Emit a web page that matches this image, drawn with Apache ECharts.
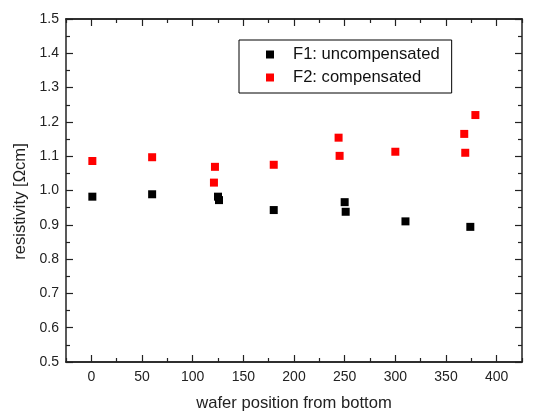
<!DOCTYPE html>
<html>
<head>
<meta charset="utf-8">
<script src="https://cdn.jsdelivr.net/npm/echarts@6/dist/echarts.min.js"></script>
<style>html,body{margin:0;padding:0;background:#fff}#c{width:534px;height:412px}</style>
</head>
<body>
<div id="c"></div>
<script>
// Data
const f1X = [1, 60, 125, 126, 180, 250, 251, 310, 374];
const f1Y = [0.982, 0.989, 0.982, 0.972, 0.943, 0.966, 0.938, 0.910, 0.894];
const f2X = [1, 60, 122, 121, 180, 244, 245, 300, 368, 369, 379];
const f2Y = [1.086, 1.097, 1.069, 1.023, 1.075, 1.154, 1.101, 1.113, 1.165, 1.110, 1.220];
const xMajorTicks = [0, 50, 100, 150, 200, 250, 300, 350, 400];
const xMinorTicks = [-25, 25, 75, 125, 175, 225, 275, 325, 375, 425];
const seriesNames = ['F1: uncompensated', 'F2: compensated'];

const font = 'Liberation Sans, Arial, sans-serif';
const axisCol = '#222';
function xAx(pos, ticks, len, labels) {
  return {
    type: 'value', position: pos, min: -25, max: 425,
    axisLine: { show: true, onZero: false, lineStyle: { color: axisCol, width: 1.5 } },
    axisTick: { show: true, inside: true, length: len, customValues: ticks, lineStyle: { color: axisCol, width: 1.2 } },
    axisLabel: labels ? { show: true, customValues: xMajorTicks, margin: 8, color: '#222', fontSize: 14, fontFamily: font } : { show: false },
    splitLine: { show: false }
  };
}
function yAx(pos, labels) {
  return {
    type: 'value', position: pos, min: 0.5, max: 1.5, interval: 0.1,
    axisLine: { show: true, onZero: false, lineStyle: { color: axisCol, width: 1.5 } },
    axisTick: { show: true, inside: true, length: 7, lineStyle: { color: axisCol, width: 1.2 } },
    minorTick: { show: true, splitNumber: 2, length: 4, lineStyle: { color: axisCol, width: 1.2 } },
    axisLabel: labels ? { show: true, margin: 7, color: '#222', fontSize: 14, fontFamily: font, formatter: v => v.toFixed(1) } : { show: false },
    splitLine: { show: false }, minorSplitLine: { show: false }
  };
}
const xAxes = [xAx('bottom', xMajorTicks, 7, true), xAx('bottom', xMinorTicks, 4, false), xAx('top', xMajorTicks, 7, false), xAx('top', xMinorTicks, 4, false)];
xAxes[0].name = 'wafer position from bottom';
xAxes[0].nameLocation = 'middle';
xAxes[0].nameGap = 33;
xAxes[0].nameTextStyle = { fontSize: 16.6, color: '#222', fontFamily: font };
const yAxes = [yAx('left', true), yAx('right', false)];
yAxes[0].name = 'resistivity [Ωcm]';
yAxes[0].nameLocation = 'middle';
yAxes[0].nameGap = 33;
yAxes[0].nameTextStyle = { fontSize: 16.6, color: '#222', fontFamily: font, padding: [0, 22, 0, 0] };

const chart = echarts.init(document.getElementById('c'), null, { renderer: 'canvas' });
chart.setOption({
  animation: false,
  backgroundColor: '#fff',
  grid: { left: 66, top: 19, right: 12, bottom: 50, containLabel: false, outerBoundsMode: 'none' },
  xAxis: xAxes,
  yAxis: yAxes,
  legend: {
    orient: 'vertical', left: 239, top: 40,
    padding: [6, 12, 7, 27], itemGap: 6, itemWidth: 8, itemHeight: 8,
    borderColor: '#000', borderWidth: 1, borderRadius: 0,
    textStyle: { fontSize: 16.6, color: '#111', fontFamily: font, padding: [0, 0, 0, 14] },
    data: seriesNames.map(n => ({ name: n, icon: 'rect' }))
  },
  series: [
    { name: seriesNames[0], type: 'scatter', symbol: 'rect', symbolSize: 8, itemStyle: { color: '#000', opacity: 1 }, data: f1X.map((x, i) => [x, f1Y[i]]) },
    { name: seriesNames[1], type: 'scatter', symbol: 'rect', symbolSize: 8, itemStyle: { color: '#ff0000', opacity: 1 }, data: f2X.map((x, i) => [x, f2Y[i]]) }
  ]
});
</script>
</body>
</html>
